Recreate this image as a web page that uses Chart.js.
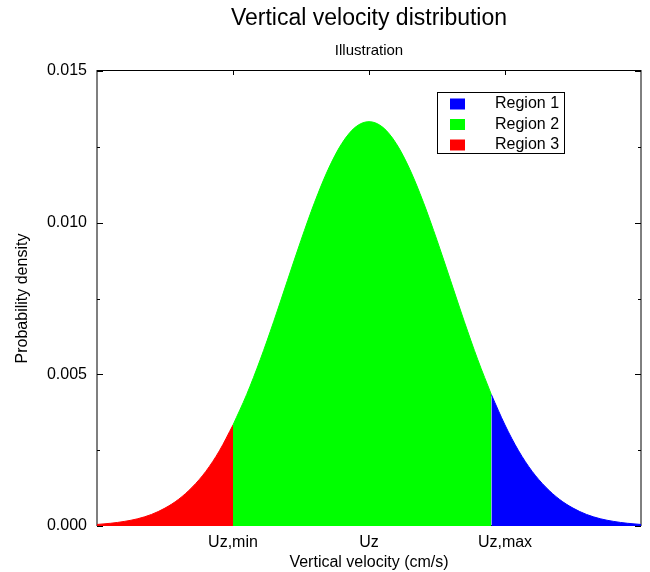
<!DOCTYPE html>
<html>
<head>
<meta charset="utf-8">
<title>Vertical velocity distribution</title>
<script src="https://cdn.jsdelivr.net/npm/chart.js@4.4.1/dist/chart.umd.min.js"></script>
<style>
  html, body { margin: 0; padding: 0; background: #fff; }
  #wrap { width: 650px; height: 572px; }
</style>
</head>
<body>
<div id="wrap"><canvas id="chart" width="650" height="572"></canvas></div>
<script>
// ── Data ──────────────────────────────────────
const velocity = [
  -2.0, -1.9, -1.8, -1.7, -1.6, -1.5, -1.4, -1.3, -1.2, -1.1,
  -1.0, -0.9, -0.8, -0.7, -0.6, -0.5, -0.4, -0.3, -0.2, -0.1,
   0.0,  0.1,  0.2,  0.3,  0.4,  0.5,  0.6,  0.7,  0.8,  0.9,
   1.0,  1.1,  1.2,  1.3,  1.4,  1.5,  1.6,  1.7,  1.8,  1.9, 2.0
];
const density = [
  0.00005, 0.00009, 0.00015, 0.00024, 0.00038, 0.00059, 0.00088, 0.00128, 0.00180, 0.00248,
  0.00333, 0.00433, 0.00548, 0.00675, 0.00809, 0.00942, 0.01067, 0.01176, 0.01261, 0.01315,
  0.01333, 0.01315, 0.01261, 0.01176, 0.01067, 0.00942, 0.00809, 0.00675, 0.00548, 0.00433,
  0.00333, 0.00248, 0.00180, 0.00128, 0.00088, 0.00059, 0.00038, 0.00024, 0.00015, 0.00009, 0.00005
];
const uzMin = -1.0;
const uzMax = 0.9;

const xTickValues = [-1, 0, 1];
const xTickLabels = ['Uz,min', 'Uz', 'Uz,max'];
const yTickValues = [0, 0.005, 0.010, 0.015];

const regionNames  = ['Region 1', 'Region 2', 'Region 3'];
const regionColors = ['#0000ff', '#00ff00', '#ff0000'];

const FONT = '"Liberation Sans", Arial, Helvetica, sans-serif';

// ── Helpers ───────────────────────────────────
function pointsBetween(lo, hi) {
  const pts = [];
  velocity.forEach((v, i) => {
    if (v >= lo && v <= hi) pts.push({ x: v, y: density[i] });
  });
  return pts;
}

const regionData = [
  pointsBetween(uzMax, Infinity),   // Region 1
  pointsBetween(uzMin, uzMax),      // Region 2
  pointsBetween(-Infinity, uzMin),  // Region 3
];

// ── Frame + inward ticks (gnuplot style) ──────
const framePlugin = {
  id: 'frame',
  beforeDatasetsDraw(chart) {
    const { ctx, chartArea: a, scales: { x, y } } = chart;
    ctx.save();
    ctx.strokeStyle = '#000';
    ctx.lineWidth = 1;
    ctx.strokeRect(a.left, a.top - 0.5, a.right - a.left, a.bottom - a.top);

    ctx.beginPath();
    for (let i = 0; i < yTickValues.length; i++) {
      const py = Math.round(y.getPixelForValue(yTickValues[i])) + 0.5;
      ctx.moveTo(a.left, py);  ctx.lineTo(a.left + 6, py);
      ctx.moveTo(a.right, py); ctx.lineTo(a.right - 6, py);
      if (i < yTickValues.length - 1) {
        const my = Math.round(y.getPixelForValue((yTickValues[i] + yTickValues[i + 1]) / 2)) + 0.5;
        ctx.moveTo(a.left, my);  ctx.lineTo(a.left + 3, my);
        ctx.moveTo(a.right, my); ctx.lineTo(a.right - 3, my);
      }
    }
    xTickValues.forEach(v => {
      const px = Math.round(x.getPixelForValue(v)) + 0.5;
      ctx.moveTo(px, a.top);    ctx.lineTo(px, a.top + 4);
      ctx.moveTo(px, a.bottom); ctx.lineTo(px, a.bottom - 4);
    });
    ctx.stroke();
    ctx.restore();
  }
};

// ── Title, subtitle and key box ───────────────
const decorPlugin = {
  id: 'decor',
  afterDraw(chart) {
    const { ctx, chartArea: a } = chart;
    const cx = (a.left + a.right) / 2;
    ctx.save();
    ctx.fillStyle = '#000';
    ctx.textAlign = 'center';
    ctx.textBaseline = 'alphabetic';
    ctx.font = '23px ' + FONT;
    ctx.fillText('Vertical velocity distribution', cx, 25);
    ctx.font = '15px ' + FONT;
    ctx.fillText('Illustration', cx, 55);

    // key
    const kx = a.left + 340, ky = a.top + 21, kw = 127, kh = 61;
    ctx.strokeStyle = '#000';
    ctx.lineWidth = 1;
    ctx.strokeRect(kx + 0.5, ky + 0.5, kw, kh);
    ctx.font = '16px ' + FONT;
    ctx.textAlign = 'left';
    ctx.textBaseline = 'middle';
    chart.data.datasets.forEach((ds, i) => {
      const cy = ky + 12 + i * 20.5;
      ctx.fillStyle = ds.backgroundColor;
      ctx.fillRect(kx + 13, cy - 5.5, 15, 11);
      ctx.fillStyle = '#000';
      ctx.fillText(ds.label, kx + 58, cy);
    });
    ctx.restore();
  }
};

// ── Chart ─────────────────────────────────────
new Chart(document.getElementById('chart'), {
  type: 'line',
  data: {
    datasets: regionNames.map((name, i) => ({
      label: name,
      data: regionData[i],
      borderColor: regionColors[i],
      backgroundColor: regionColors[i],
      borderWidth: 1,
      fill: 'origin',
      pointRadius: 0,
      cubicInterpolationMode: 'monotone',
    })),
  },
  options: {
    responsive: false,
    animation: false,
    layout: { padding: { top: 71, right: 9, bottom: 0, left: 0 } },
    plugins: {
      legend: { display: false },
      tooltip: { enabled: false },
      title: { display: false },
    },
    scales: {
      x: {
        type: 'linear',
        min: -2,
        max: 2,
        afterBuildTicks: s => { s.ticks = xTickValues.map(v => ({ value: v })); },
        afterFit: s => { s.height = 46; },
        grid: { display: false, drawTicks: false },
        border: { display: false },
        ticks: {
          autoSkip: false,
          maxRotation: 0,
          padding: 7,
          color: '#000',
          font: { family: FONT, size: 16 },
          callback: v => xTickLabels[xTickValues.indexOf(v)] ?? '',
        },
        title: {
          display: true,
          text: 'Vertical velocity (cm/s)',
          color: '#000',
          font: { family: FONT, size: 16 },
          padding: { top: 0, bottom: 0 },
        },
      },
      y: {
        min: 0,
        max: 0.015,
        afterBuildTicks: s => { s.ticks = yTickValues.map(v => ({ value: v })); },
        afterFit: s => { s.width = 97; },
        grid: { display: false, drawTicks: false },
        border: { display: false },
        ticks: {
          padding: 10,
          color: '#000',
          font: { family: FONT, size: 16 },
          callback: v => v.toFixed(3),
        },
        title: {
          display: true,
          text: 'Probability density',
          color: '#000',
          font: { family: FONT, size: 16 },
          padding: { top: 13, bottom: 0 },
        },
      },
    },
  },
  plugins: [framePlugin, decorPlugin],
});
</script>
</body>
</html>
